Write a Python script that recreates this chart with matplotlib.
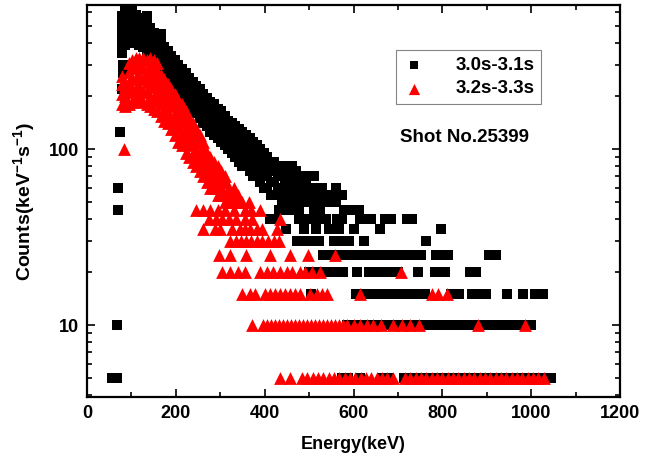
import matplotlib
matplotlib.use("Agg")
import matplotlib.pyplot as plt
from matplotlib.ticker import FixedLocator, NullFormatter, LogLocator

plt.rcParams['font.family'] = ['Liberation Sans', 'DejaVu Sans']
plt.rcParams['font.weight'] = 'bold'
plt.rcParams['mathtext.fontset'] = 'custom'
plt.rcParams['mathtext.rm'] = 'Liberation Sans:bold'
plt.rcParams['mathtext.bf'] = 'Liberation Sans:bold'
plt.rcParams['mathtext.default'] = 'bf'

# ---------------- data (keV, counts keV^-1 s^-1) ----------------
# black series 3.0s-3.1s : quantised levels
black_levels = {
    5: [56, 68, 575, 588, 615, 665, 677, 714, 726, 738, 750, 762, 774, 786, 798, 810, 822, 834,
        846, 858, 870, 882, 894, 906, 918, 930, 942, 954, 966, 978, 990, 1002, 1014, 1026, 1038, 1045],
    10: [68, 585, 597, 609, 621, 633, 645, 657, 669, 681, 693, 705, 717, 729, 741, 753, 765, 777,
         789, 801, 813, 825, 837, 849, 861, 873, 885, 897, 909, 921, 933, 945, 957, 969, 981, 993, 1000],
    15: [505, 605, 617, 629, 641, 653, 665, 677, 689, 701, 713, 725, 737, 749, 761, 820, 838, 867,
         882, 899, 946, 982, 1009, 1027],
    20: [500, 512, 525, 538, 551, 564, 577, 608, 635, 650, 665, 680, 700, 745, 784, 806, 862, 876],
    25: [531, 543, 555, 567, 579, 591, 603, 615, 627, 639, 651, 663, 675, 687, 699, 711, 723, 735,
         747, 752, 786, 800, 813, 905, 921],
    30: [473, 485, 498, 510, 523, 556, 572, 590, 624, 764],
    35: [448, 489, 516, 545, 558, 568, 601, 660, 797],
    40: [412, 425, 478, 492, 512, 525, 538, 562, 575, 614, 628, 640, 671, 684, 720, 732],
    45: [432, 448, 462, 478, 512, 525, 578, 590, 602, 613],
    50: [545, 560],
    55: [522, 535, 548, 562, 572],
    70: [482, 495, 510],
}
black_low_x = [70, 70, 75, 78, 80, 82]
black_low_y = [45, 60, 125, 220, 270, 300]
black_cloud = {
    78: [350, 400, 450, 510, 570], 86: [390, 440, 500, 560, 610], 94: [420, 470, 530, 590],
    102: [400, 450, 510, 570, 620], 110: [410, 460, 520, 580], 118: [390, 440, 500, 560],
    126: [380, 430, 480, 540], 134: [360, 410, 460, 520, 570], 142: [340, 390, 440, 490],
    150: [320, 360, 410, 460], 158: [300, 340, 380, 430], 166: [280, 320, 360, 410, 450],
    174: [265, 300, 340, 380], 182: [250, 285, 320, 360], 190: [235, 265, 300, 340],
    198: [220, 250, 285, 320], 206: [205, 235, 265, 300], 214: [195, 220, 250, 285],
    222: [185, 210, 240, 270], 230: [175, 200, 225, 255], 238: [165, 190, 215, 240],
    246: [160, 180, 205, 230], 254: [150, 170, 195, 220], 262: [140, 160, 185, 205],
    270: [135, 155, 175, 195], 278: [125, 145, 165, 185], 286: [120, 140, 160, 180],
    294: [115, 130, 150, 170], 302: [110, 125, 145, 165], 310: [105, 120, 140, 155],
    318: [100, 115, 130, 145], 326: [95, 110, 125, 140], 334: [90, 105, 120, 135],
    342: [85, 100, 115, 130], 350: [80, 95, 110, 125], 358: [80, 90, 105, 120],
    366: [75, 85, 100, 115], 374: [70, 80, 95, 110], 382: [70, 80, 90, 105],
    390: [65, 75, 85, 100], 398: [60, 70, 80, 95], 406: [60, 70, 80, 90],
    414: [55, 65, 75, 85], 422: [55, 65, 75, 85], 430: [55, 60, 70, 80],
    438: [50, 60, 70, 80], 446: [50, 55, 65, 75], 454: [50, 55, 65, 75],
    462: [50, 55, 60, 70, 80], 470: [50, 55, 65, 75], 478: [50, 60, 70],
    486: [50, 55, 65, 70], 494: [50, 60, 65], 502: [50, 55, 60, 70], 510: [50, 60, 70],
    520: [55, 60], 530: [50, 60], 540: [55], 560: [55, 60], 575: [55],
}

# red series 3.2s-3.3s
red_levels = {
    5: [435, 457, 484, 496, 508, 520, 532, 544, 556, 568, 580, 592, 604, 616, 628, 640, 652, 664,
        676, 689, 716, 728, 740, 752, 764, 776, 788, 800, 812, 824, 836, 848, 860, 872, 884, 896,
        908, 920, 932, 944, 956, 968, 980, 992, 1004, 1016, 1030],
    10: [372, 396, 405, 414, 423, 432, 441, 450, 459, 468, 477, 486, 495, 504, 513, 522, 531, 540,
         549, 558, 567, 576, 585, 600, 615, 630, 645, 662, 689, 709, 727, 748, 881, 986],
    15: [349, 367, 378, 401, 412, 423, 435, 446, 457, 468, 480, 502, 518, 529, 541, 615, 777, 791, 811],
    20: [304, 322, 340, 356, 390, 405, 419, 435, 450, 462, 480, 491, 507, 525, 707],
    25: [297, 322, 358, 412, 457, 498, 559],
    30: [322, 335, 347, 358, 370, 382, 395, 408, 420, 433],
    35: [261, 288, 300, 327, 345, 356, 367, 383, 394, 428],
    40: [275, 290, 305, 320, 335, 355, 372, 435],
    45: [245, 262, 278, 295, 310, 330, 355, 370, 390],
}
red_low_x = [84]
red_low_y = [100]
red_cloud = {
    78: [180, 205, 235, 260], 86: [175, 200, 230], 94: [180, 210, 240, 275, 310],
    102: [185, 215, 250, 290, 320], 110: [190, 220, 255, 295, 330], 118: [195, 225, 260, 300, 330],
    126: [185, 215, 250, 290, 330], 134: [180, 210, 240, 280, 320], 142: [175, 200, 230, 265, 300, 330],
    150: [170, 195, 225, 255, 290, 320], 158: [165, 190, 215, 245, 280, 310],
    166: [155, 180, 205, 235, 265], 174: [145, 170, 195, 225, 250], 182: [140, 160, 185, 210, 235],
    190: [130, 150, 175, 200, 220], 198: [120, 140, 160, 185, 205], 206: [110, 130, 150, 170, 190],
    214: [105, 120, 140, 160, 180], 222: [95, 110, 130, 150, 165], 230: [90, 105, 120, 135, 150],
    238: [85, 95, 110, 125, 140], 246: [80, 90, 100, 115, 130], 254: [75, 85, 95, 110, 120],
    262: [70, 80, 90, 100, 110], 270: [65, 75, 85, 95], 278: [60, 70, 80, 90],
    286: [60, 65, 75, 85], 294: [55, 60, 70, 80], 302: [55, 60, 65, 75], 310: [50, 55, 65, 70],
    320: [50, 55, 60], 330: [50, 55, 60], 340: [50, 55], 350: [50], 365: [50],
}

legend_labels = ["3.0s-3.1s", "3.2s-3.3s"]
x_ticks = [0, 200, 400, 600, 800, 1000, 1200]
annotation = "Shot No.25399"


def flatten(levels, cloud, lx, ly):
    xs, ys = list(lx), list(ly)
    for v, xl in levels.items():
        xs += xl
        ys += [v] * len(xl)
    for x, vl in cloud.items():
        xs += [x] * len(vl)
        ys += vl
    return xs, ys


bx, by = flatten(black_levels, black_cloud, black_low_x, black_low_y)
rx, ry = flatten(red_levels, red_cloud, red_low_x, red_low_y)

fig = plt.figure(figsize=(6.57, 4.61), dpi=100)
ax = fig.add_axes([87 / 657, 1 - 397 / 461, 533 / 657, 392 / 461])

ax.scatter(bx, by, marker='s', s=50, c='black', linewidths=0, label=legend_labels[0], zorder=2)
ax.scatter(rx, ry, marker='^', s=85, c='red', linewidths=0, label=legend_labels[1], zorder=3)

ax.set_yscale('log')
ax.set_xlim(0, 1200)
ax.set_ylim(3.9, 660)
ax.xaxis.set_major_locator(FixedLocator(x_ticks))
ax.xaxis.set_minor_locator(FixedLocator([100, 300, 500, 700, 900, 1100]))
ax.yaxis.set_major_locator(LogLocator(base=10))
ax.yaxis.set_minor_locator(LogLocator(base=10, subs=range(2, 10)))
ax.yaxis.set_minor_formatter(NullFormatter())
ax.set_yticks([10, 100])
ax.set_yticklabels(['10', '100'])

ax.tick_params(which='both', direction='in', top=True, right=True, width=1.2, labelsize=13)
ax.tick_params(which='major', length=6, pad=6)
ax.tick_params(which='minor', length=3.5)
for lab in ax.get_xticklabels() + ax.get_yticklabels():
    lab.set_fontweight('bold')
for sp in ax.spines.values():
    sp.set_linewidth(1.6)

ax.set_xlabel('Energy(keV)', fontsize=13, fontweight='bold', labelpad=10)
ax.set_ylabel('Counts(keV$^{-1}$s$^{-1}$)', fontsize=14, fontweight='bold', labelpad=8)

leg = ax.legend(loc='upper left', bbox_to_anchor=(0.58, 0.885), frameon=True, fancybox=False,
                edgecolor='#666666', handletextpad=1.6, borderpad=0.35,
                labelspacing=0.35, borderaxespad=0, handlelength=1.2,
                prop={'weight': 'bold', 'size': 13.5})
leg.get_frame().set_linewidth(0.8)
leg.legend_handles[0].set_sizes([40])
leg.legend_handles[1].set_sizes([65])

ax.text(0.587, 0.663, annotation, transform=ax.transAxes, fontsize=13.5, fontweight='bold',
        va='center', ha='left')

fig.savefig('out.png', dpi=100)
